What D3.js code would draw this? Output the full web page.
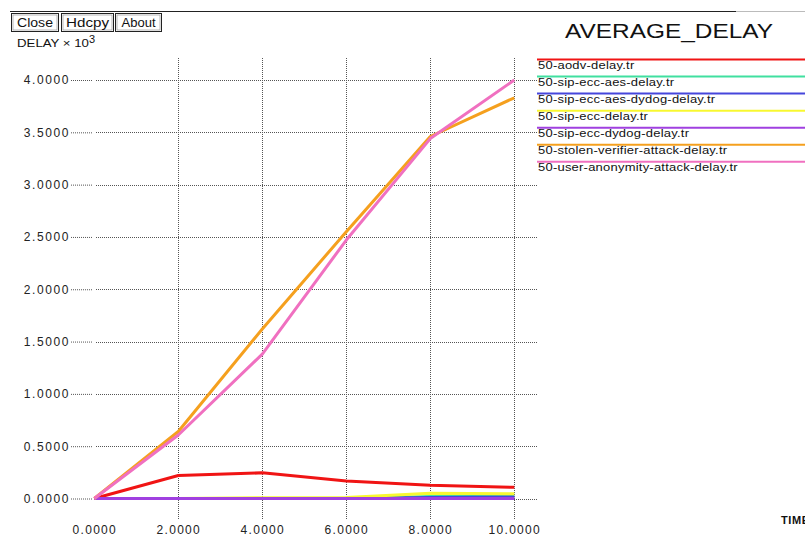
<!DOCTYPE html>
<html>
<head>
<meta charset="utf-8">
<script src="https://cdn.jsdelivr.net/npm/d3@7"></script>
<style>
  html, body { margin: 0; padding: 0; background: #fff; }
  svg { display: block; font-family: Arial, "Liberation Sans", Helvetica, sans-serif; }
</style>
</head>
<body>
<svg id="chart" width="805" height="536"></svg>
<script>
// ---- data ----
const times = [0, 2, 4, 6, 8, 10];
const seriesNames = [
  "50-aodv-delay.tr",
  "50-sip-ecc-aes-delay.tr",
  "50-sip-ecc-aes-dydog-delay.tr",
  "50-sip-ecc-delay.tr",
  "50-sip-ecc-dydog-delay.tr",
  "50-stolen-verifier-attack-delay.tr",
  "50-user-anonymity-attack-delay.tr"
];
const aodvDelay        = [0, 0.220, 0.245, 0.167, 0.126, 0.107];
const sipEccAesDelay   = [0, 0, 0, 0, 0.020, 0.025];
const sipEccAesDydog   = [0, 0, 0, 0, 0.010, 0.015];
const sipEccDelay      = [0, 0, 0.008, 0.010, 0.050, 0.045];
const sipEccDydogDelay = [0, 0, 0, 0, 0, 0];
const stolenVerifier   = [0, 0.640, 1.620, 2.550, 3.460, 3.830];
const userAnonymity    = [0, 0.607, 1.380, 2.470, 3.440, 4.000];
const seriesValues = [aodvDelay, sipEccAesDelay, sipEccAesDydog, sipEccDelay,
                      sipEccDydogDelay, stolenVerifier, userAnonymity];
const seriesColors = ["#f01414", "#40e0a0", "#4646dc", "#f8f830", "#a040e0", "#f5a01e", "#f070c0"];
const xTicks = [0, 2, 4, 6, 8, 10];
const yTicks = [0, 0.5, 1, 1.5, 2, 2.5, 3, 3.5, 4];
const buttons = ["Close", "Hdcpy", "About"];

// ---- drawing ----
const svg = d3.select("#chart");
const x = d3.scaleLinear().domain([0, 10]).range([94.3, 514.3]);
const y = d3.scaleLinear().domain([0, 4]).range([498.5, 80]);
const fmt = d3.format(".4f");

// top rule
svg.append("line").attr("x1", 10).attr("x2", 736).attr("y1", 11.5).attr("y2", 11.5)
  .attr("stroke", "#222").attr("stroke-width", 1);
svg.append("line").attr("x1", 736).attr("x2", 805).attr("y1", 11.5).attr("y2", 11.5)
  .attr("stroke", "#bbb").attr("stroke-width", 1);

// buttons
const btnX = [11.5, 61.5, 115.5], btnW = [47, 52, 46], btnTL = [36, 43, 34];
buttons.forEach((b, i) => {
  svg.append("rect").attr("x", btnX[i]).attr("y", 13.5).attr("width", btnW[i]).attr("height", 18)
    .attr("fill", "#fff").attr("stroke", "#222").attr("stroke-width", 1);
  svg.append("rect").attr("x", btnX[i] + 1.5).attr("y", 15).attr("width", btnW[i] - 3).attr("height", 15)
    .attr("fill", "none").attr("stroke", "#888").attr("stroke-width", 0.6);
  svg.append("text").attr("x", btnX[i] + btnW[i] / 2).attr("y", 27)
    .attr("text-anchor", "middle").attr("font-size", 12).attr("fill", "#111")
    .attr("textLength", btnTL[i]).attr("lengthAdjust", "spacingAndGlyphs").text(b);
});

// y-axis title
const yt = svg.append("text").attr("x", 17).attr("y", 47).attr("font-size", 11.5).attr("fill", "#111");
yt.append("tspan").attr("textLength", 72).attr("lengthAdjust", "spacingAndGlyphs").text("DELAY \u00d7 10");
yt.append("tspan").attr("dy", -4).attr("font-size", 11).text("3");

// title
svg.append("text").attr("x", 565).attr("y", 38).attr("font-size", 20).attr("fill", "#111")
  .attr("textLength", 208).attr("lengthAdjust", "spacingAndGlyphs").text("AVERAGE_DELAY");

// horizontal grid
svg.append("g").selectAll("line").data(yTicks).join("line")
  .attr("x1", 96).attr("x2", 537)
  .attr("y1", d => Math.round(y(d)) + 0.5).attr("y2", d => Math.round(y(d)) + 0.5)
  .attr("stroke", "#555").attr("stroke-width", 1).attr("stroke-dasharray", "1,1");

// vertical grid
svg.append("g").selectAll("line").data(xTicks.filter(d => d > 0)).join("line")
  .attr("x1", d => Math.round(x(d)) + 0.5).attr("x2", d => Math.round(x(d)) + 0.5)
  .attr("y1", 58).attr("y2", 520)
  .attr("stroke", "#555").attr("stroke-width", 1).attr("stroke-dasharray", "1,1");

// y axis (ticks as short dotted segments)
const yAxis = svg.append("g").attr("transform", "translate(92,0)")
  .call(d3.axisLeft(y).tickValues(yTicks).tickFormat(fmt).tickSize(21).tickPadding(1));
yAxis.select(".domain").remove();
yAxis.selectAll(".tick line").attr("stroke", "#555").attr("stroke-dasharray", "1,1");
yAxis.selectAll(".tick text").attr("font-size", 12).attr("fill", "#222")
  .attr("letter-spacing", 1.6).attr("font-family", "Arial, 'Liberation Sans', sans-serif");

// x axis
const xAxis = svg.append("g").attr("transform", "translate(0,519)")
  .call(d3.axisBottom(x).tickValues(xTicks).tickFormat(fmt).tickSize(0).tickPadding(6));
xAxis.select(".domain").remove();
xAxis.selectAll(".tick text").attr("font-size", 12).attr("fill", "#222")
  .attr("letter-spacing", 1.3).attr("font-family", "Arial, 'Liberation Sans', sans-serif");

// x label (cut off at the right edge, as in the reference)
svg.append("text").attr("x", 781).attr("y", 524).attr("font-size", 11).attr("font-weight", "bold")
  .attr("fill", "#111").attr("letter-spacing", 0.6).text("TIME");

// lines
const line = d3.line().x((d, i) => x(times[i])).y(d => y(d));
seriesValues.forEach((vals, k) => {
  svg.append("path").datum(vals).attr("d", line)
    .attr("fill", "none").attr("stroke", seriesColors[k]).attr("stroke-width", 3)
    .attr("stroke-linejoin", "round");
});

// legend
seriesNames.forEach((n, k) => {
  const ly = 59.5 + k * 17.05;
  svg.append("line").attr("x1", 537).attr("x2", 805).attr("y1", ly).attr("y2", ly)
    .attr("stroke", seriesColors[k]).attr("stroke-width", 2);
  svg.append("text").attr("transform", `translate(538,${ly + 9.5}) scale(1.16,1)`)
    .attr("font-size", 11.2).attr("fill", "#111").attr("letter-spacing", 0.2).text(n);
});
</script>
</body>
</html>
